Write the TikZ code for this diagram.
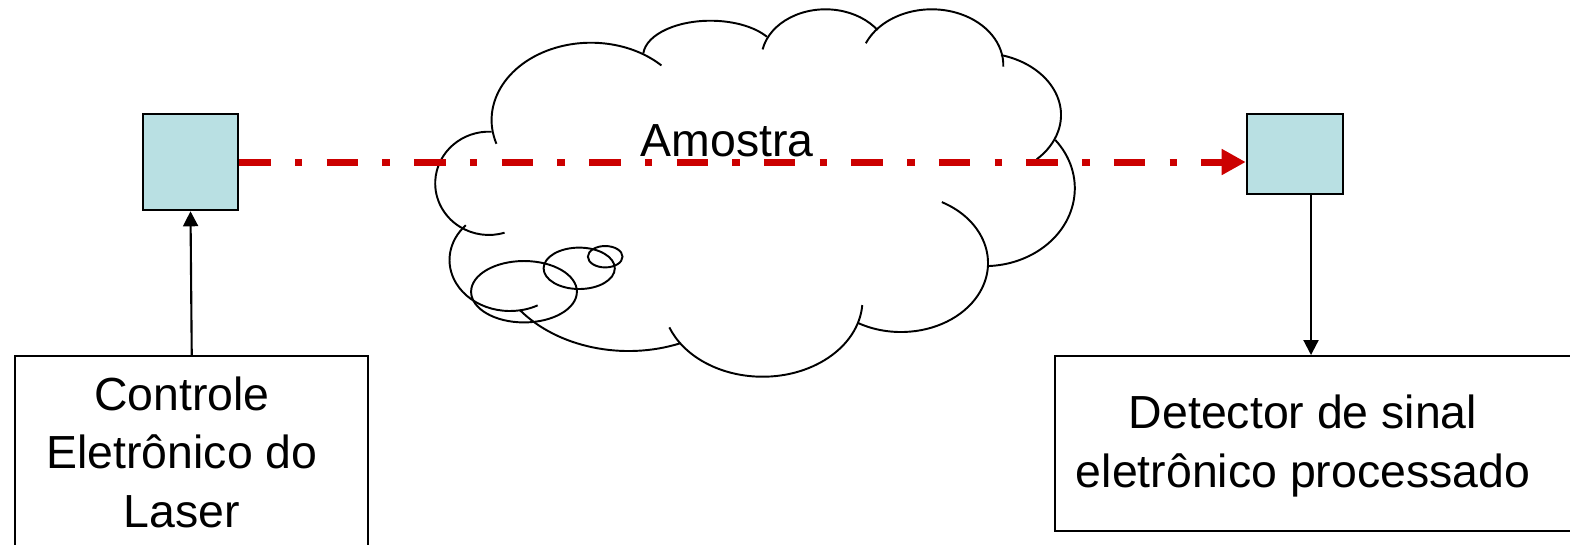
\documentclass[tikz,border=0pt]{standalone}
\usepackage{fontspec}
\setmainfont{Liberation Sans}
\usetikzlibrary{arrows.meta}
\definecolor{boxfill}{HTML}{B9E0E3}
\definecolor{beamred}{HTML}{CC0000}
\tikzset{
  srcbox/.style={draw, line width=0.7pt, fill=boxfill, inner sep=0pt},
  bigbox/.style={draw, line width=0.65pt, inner sep=0pt},
  txt/.style={font=\fontsize{13.2}{16.6}\selectfont, align=center, inner sep=0pt},
  blk/.style={line width=0.6pt, -{Triangle[length=0.15cm,width=0.15cm]}},
  beam/.style={beamred, line width=2pt, dash pattern=on 0.315cm off 0.242cm on 0.075cm off 0.242cm, -{Triangle[length=0.24cm,width=0.245cm]}},
  puff/.style={line width=0.55pt}
}
\begin{document}
\begin{tikzpicture}[x=0.01cm,y=-0.01cm]
\useasboundingbox (0,0) rectangle (1570,544);
% cloud: one arc per bump
\foreach \cx/\cy/\rx/\ry/\ta/\tb in {488.9/183.3/53.7/51.65/273/73, 591/120/99.4/77.3/162.1/315.1,
  710.5/56.1/67.4/35.4/184.5/326.8, 825.5/59.4/64.2/50.1/191.5/324.1, 931.7/65.2/71.6/55.9/203.1/361.5,
  979.4/115/81.6/62.2/285.4/405.4, 984.6/188.3/90.2/77.8/321.6/447.2, 901/263/87/69/298/480.1,
  762.6/299.8/99.9/76.9/3.9/159, 628.6/245.1/137.7/105.9/68/142.2, 510/260/60.5/51/62.8/223}
{ \draw[puff] ({\cx+\rx*cos(\ta)},{\cy+\ry*sin(\ta)}) arc[start angle=\ta, end angle=\tb, x radius=\rx, y radius=\ry]; }
\foreach \cx/\cy/\rx/\ry in {524/291.7/52.9/30.7, 579.2/268.3/35.6/20.7, 605.2/256.7/17.3/10.7}{ \draw[puff] (\cx,\cy) ellipse [x radius=\rx, y radius=\ry]; }

% boxes
\node[srcbox, minimum width=0.95cm, minimum height=0.96cm] (laser) at (190.5,162) {};
\node[srcbox, minimum width=0.96cm, minimum height=0.80cm] (sensor) at (1295,154) {};
\node[bigbox, minimum width=3.53cm, minimum height=2.2cm, anchor=north west] (ctrl) at (14,355) {};
\node[bigbox, minimum width=5.4cm, minimum height=1.75cm, anchor=north west] (detect) at (1054,355) {};
\coordinate (tapR) at (1311,0);

\draw[beam] (laser.east) -- (laser.east -| sensor.west);
\draw[blk] (ctrl.north) -- (laser.south);
\draw[blk] (sensor.south -| tapR) -- (detect.north -| tapR);

\node[txt, anchor=base] (amostra) at (727,156) {Amostra};
\node[txt, anchor=base] (ctrltxt) at (182,527) {Controle\\Eletrônico do\\Laser};
\node[txt, anchor=base] (dettxt) at (1303,487) {Detector de sinal\\eletrônico processado};
\end{tikzpicture}
\end{document}
